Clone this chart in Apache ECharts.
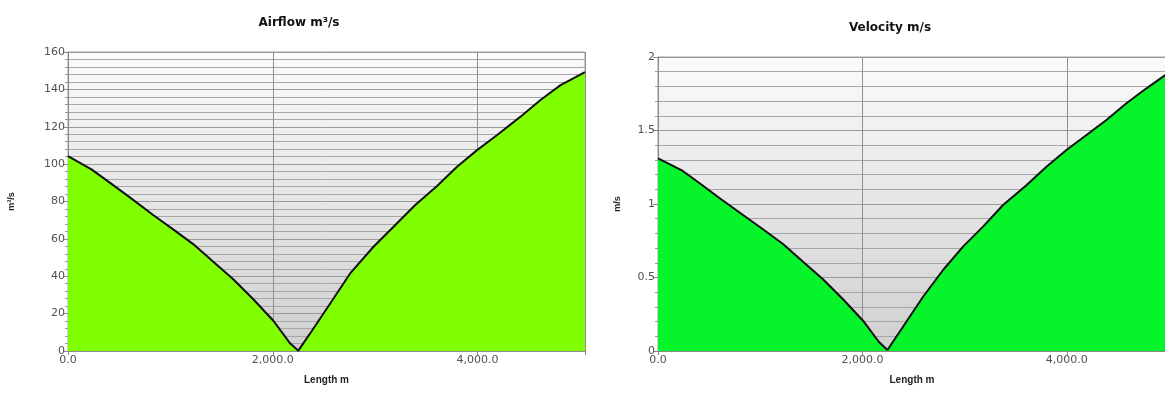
<!DOCTYPE html>
<html>
<head>
<meta charset="utf-8">
<script src="https://cdn.jsdelivr.net/npm/echarts@6/dist/echarts.min.js"></script>
<style>
html,body{margin:0;padding:0;background:#fff;}
#c{width:1165px;height:394px;}
</style>
</head>
<body>
<div id="c"></div>
<script>
// ---- data ----
var airflowLength = [0,229,408,604,832,1027,1223,1419,1614,1810,2006,2169,2250,2365,2561,2756,2984,3180,3392,3605,3800,3996,4192,4420,4615,4811,5050];
var airflowValue  = [104.3,97.2,90.1,82.2,72.8,65.1,57.2,47.8,38.4,27.7,16.2,4.1,0.2,9.4,25.4,41.5,55.8,66.5,78.1,88.3,98.6,107.5,115.6,125.4,134.3,142.3,149.2];
var velocityLength = [0,229,408,604,832,1027,1223,1419,1614,1810,2006,2160,2245,2397,2593,2789,2984,3180,3376,3607,3800,3996,4192,4387,4583,4779,4970];
var velocityValue  = [1.311,1.231,1.141,1.039,0.925,0.828,0.728,0.607,0.488,0.352,0.206,0.063,0.007,0.165,0.369,0.551,0.71,0.846,0.993,1.129,1.254,1.367,1.469,1.571,1.685,1.787,1.880];
var xTickLabels = {0:'0.0',2000:'2,000.0',4000:'4,000.0'};
var airflowTicks = {0:'0',20:'20',40:'40',60:'60',80:'80',100:'100',120:'120',140:'140',160:'160'};
var velocityTicks = {0:'0',0.5:'0.5',1:'1',1.5:'1.5',2:'2'};

function pairs(xs, ys){ return xs.map(function(x,i){ return [x, ys[i]]; }); }

var FONT = 'Liberation Sans, Arial, sans-serif';
var TFONT = 'DejaVu Sans, sans-serif';
var bg = {type:'linear',x:0,y:0,x2:0,y2:1,colorStops:[{offset:0,color:'#fbfbfb'},{offset:1,color:'#cfcfcf'}]};

function xAxis(gi, max){
  return {
    gridIndex: gi, type:'value', min:0, max:max, interval:2000,
    name:'Length m', nameLocation:'middle', nameGap:24,
    nameTextStyle:{fontFamily:FONT,fontWeight:'bold',fontSize:10,color:'#222'},
    axisLine:{show:true,lineStyle:{color:'#888',width:1}},
    axisTick:{show:true,length:4,lineStyle:{color:'#888'}},
    axisLabel:{fontFamily:TFONT,fontSize:11,color:'#505050',margin:4,
      formatter:function(v){ return xTickLabels[v]!==undefined ? xTickLabels[v] : ''; }},
    splitLine:{show:true,lineStyle:{color:'#8f8f8f',width:1}}
  };
}
function yAxis(gi, max, interval, name, ticks, gap){
  return {
    gridIndex: gi, type:'value', min:0, max:max, interval:interval,
    name:name, nameLocation:'middle', nameGap:gap, nameRotate:90,
    nameTextStyle:{fontFamily:FONT,fontWeight:'bold',fontSize:9,color:'#222'},
    axisLine:{show:true,lineStyle:{color:'#888',width:1}},
    axisTick:{show:true,length:5,lineStyle:{color:'#888'}},
    minorTick:{show:true,splitNumber:5,length:3,lineStyle:{color:'#999'}},
    axisLabel:{fontFamily:TFONT,fontSize:11,color:'#505050',margin:3,
      formatter:function(v){ var k = Math.round(v*1000)/1000; return ticks[k]!==undefined ? ticks[k] : ''; }},
    splitLine:{show:true,lineStyle:{color:'#9a9a9a',width:1}},
    minorSplitLine:{show:true,lineStyle:{color:'#a6a6a6',width:1}}
  };
}

var chart = echarts.init(document.getElementById('c'), null, {renderer:'canvas'});
chart.setOption({
  animation:false,
  backgroundColor:'#ffffff',
  title:[
    {text:'Airflow m³/s', left:294, top:12, textAlign:'center',
     textStyle:{fontFamily:TFONT,fontWeight:'bold',fontSize:12,color:'#111'}},
    {text:'Velocity m/s', left:885, top:17, textAlign:'center',
     textStyle:{fontFamily:TFONT,fontWeight:'bold',fontSize:12,color:'#111'}}
  ],
  grid:[
    {left:68, top:52, width:517, height:299, show:true, backgroundColor:bg, borderColor:'#a0a0a0', borderWidth:1, outerBoundsMode:'none', containLabel:false},
    {left:658, top:57, width:508, height:294, show:true, backgroundColor:bg, borderColor:'#a0a0a0', borderWidth:1, outerBoundsMode:'none', containLabel:false}
  ],
  xAxis:[xAxis(0, 5050), xAxis(1, 4970)],
  yAxis:[
    yAxis(0, 160, 20, 'm³/s', airflowTicks, 52),
    yAxis(1, 2, 0.5, 'm/s', velocityTicks, 36)
  ],
  series:[
    {type:'line', xAxisIndex:0, yAxisIndex:0, data:pairs(airflowLength, airflowValue),
     showSymbol:false, symbol:'none', lineStyle:{color:'#111',width:2},
     areaStyle:{color:'#80FF00',opacity:1}},
    {type:'line', xAxisIndex:1, yAxisIndex:1, data:pairs(velocityLength, velocityValue),
     showSymbol:false, symbol:'none', lineStyle:{color:'#111',width:2},
     areaStyle:{color:'#06F42A',opacity:1}}
  ]
});
</script>
</body>
</html>
